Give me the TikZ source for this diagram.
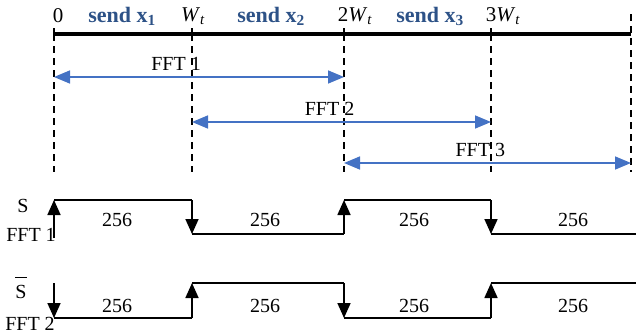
\documentclass[tikz,border=0pt]{standalone}
\usepackage{fontspec}
\setmainfont{Liberation Serif}
\usetikzlibrary{arrows.meta}
\definecolor{fftblue}{RGB}{68,114,196}
\definecolor{sendblue}{RGB}{45,82,135}

\begin{document}
\begin{tikzpicture}[x=1pt,y=-1pt,
  axis line/.style={line width=3.8pt},
  grid line/.style={line width=1.6pt,dash pattern=on 7pt off 5pt},
  fft arrow/.style={fftblue,line width=1.6pt,
    {Triangle[length=16pt,width=13pt]}-{Triangle[length=16pt,width=13pt]}},
  signal/.style={line width=1.7pt},
  edge arrow/.style={line width=1.7pt,-{Triangle[length=15pt,width=13pt]}},
  txt/.style={font=\fontsize{20}{22}\selectfont,inner sep=0pt},
  top/.style={font=\fontsize{21}{23}\selectfont,inner sep=0pt},
  send/.style={inner sep=0pt,font=\fontsize{22}{24}\selectfont\bfseries,text=sendblue}]
  \useasboundingbox (0,0) rectangle (636,332);

  % time axis
  \coordinate (t0) at (54,34);
  \coordinate (t1) at (192,34);
  \coordinate (t2) at (344,34);
  \coordinate (t3) at (491,34);
  \coordinate (t4) at (631,34);
  \coordinate (t4top) at (631,14);
  \draw[axis line] (t0) -- (t4);
  \foreach \i in {0,...,3}
    \draw[line width=1.6pt] (t\i) -- ++(0,-6);
  \foreach \i in {0,...,3}
    \draw[grid line] (t\i) -- ++(0,138);
  \draw[grid line] (t4top) -- ++(0,158);

  \node[top] (l0) at (58,16) {0};
  \node[send] (x1) at (122,16) {send x\textsubscript{1}};
  \node[top] (l1) at (193,16) {\textit{W}\textsubscript{\textit{t}}};
  \node[send] (x2) at (271,16) {send x\textsubscript{2}};
  \node[top] (l2) at (355,16) {2\textit{W}\textsubscript{\textit{t}}};
  \node[send] (x3) at (430,16) {send x\textsubscript{3}};
  \node[top] (l3) at (503,16) {3\textit{W}\textsubscript{\textit{t}}};

  % FFT windows
  \coordinate (f1a) at (54,77);
  \coordinate (f1b) at (344,77);
  \coordinate (f2a) at (192,122);
  \coordinate (f2b) at (491,122);
  \coordinate (f3a) at (344,163);
  \coordinate (f3b) at (631,163);
  \draw[fft arrow] (f1a) -- node[txt,pos=0.421,above=6pt,text=black]{FFT 1} (f1b);
  \draw[fft arrow] (f2a) -- node[txt,pos=0.46,above=6pt,text=black]{FFT 2} (f2b);
  \draw[fft arrow] (f3a) -- node[txt,pos=0.475,above=6pt,text=black]{FFT 3} (f3b);

  % switching signals
  \foreach \i/\x in {0/54,1/192,2/344,3/491,4/636} {
    \coordinate (sh\i) at (\x,200);
    \coordinate (sl\i) at (\x,234);
    \coordinate (bh\i) at (\x,283);
    \coordinate (bl\i) at (\x,318);
  }
  \coordinate (s0) at (54,238);

  % S
  \draw[edge arrow] (s0) -- (sh0);
  \draw[signal] (sh0) -- (sh1);
  \draw[edge arrow] (sh1) -- (sl1);
  \draw[signal] (sl1) -- (sl2);
  \draw[edge arrow] (sl2) -- (sh2);
  \draw[signal] (sh2) -- (sh3);
  \draw[edge arrow] (sh3) -- (sl3);
  \draw[signal] (sl3) -- (sl4);

  % S bar
  \draw[edge arrow] (bh0) -- (bl0);
  \draw[signal] (bl0) -- (bl1);
  \draw[edge arrow] (bl1) -- (bh1);
  \draw[signal] (bh1) -- (bh2);
  \draw[edge arrow] (bh2) -- (bl2);
  \draw[signal] (bl2) -- (bl3);
  \draw[edge arrow] (bl3) -- (bh3);
  \draw[signal] (bh3) -- (bh4);

  \node[txt] (sname) at (23,206) {S};
  \node[txt] (sfft) at (31,235) {FFT 1};
  \node[txt,anchor=base] (bname) at (21,298) {$\overline{\mbox{\rule{0pt}{19pt}S}}$};
  \node[txt,anchor=base] (bfft) at (30,330) {FFT 2};

  \foreach \x in {117,265,414,573} {
    \node[txt] at (\x,220) {256};
    \node[txt] at (\x,306) {256};
  }
\end{tikzpicture}
\end{document}
